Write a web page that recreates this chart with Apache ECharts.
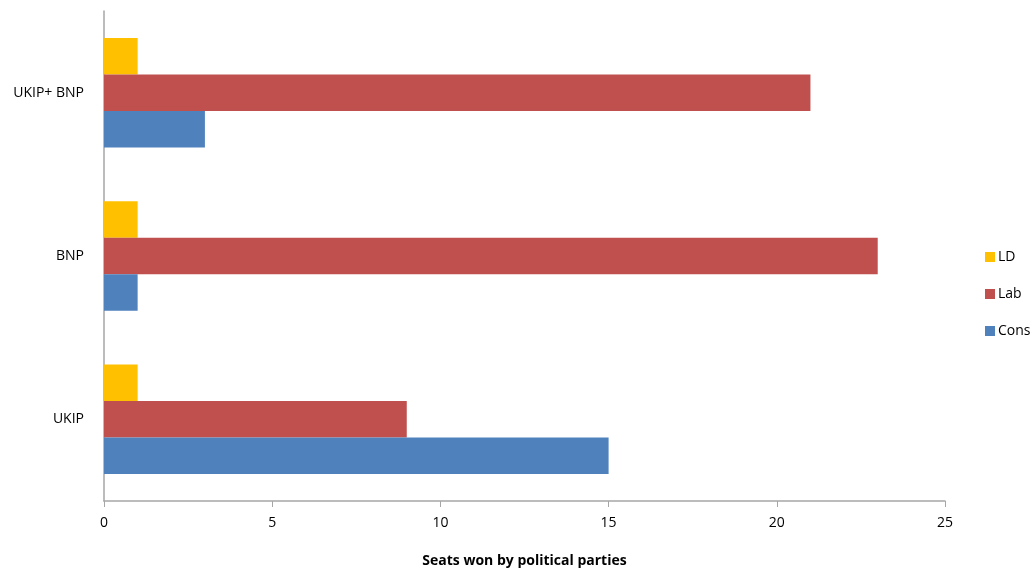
<!DOCTYPE html>
<html><head><meta charset="utf-8">
<script src="https://cdn.jsdelivr.net/npm/echarts@6/dist/echarts.min.js"></script>
<style>html,body{margin:0;padding:0;background:#fff}#c{width:1033px;height:573px}</style>
</head><body><div id="c"></div>
<script>
const categories = ['UKIP', 'BNP', 'UKIP+ BNP'];
const consValues = [15, 1, 3];
const labValues = [9, 23, 21];
const ldValues = [1, 1, 1];
const xTicks = { min: 0, max: 25, interval: 5 };
const axisName = 'Seats won by political parties';

const font = 'Open Sans, Liberation Sans, sans-serif';
const chart = echarts.init(document.getElementById('c'));
chart.setOption({
  animation: false,
  textStyle: { fontFamily: font },
  grid: { left: 104, right: 88, top: 11, bottom: 68, containLabel: false },
  legend: {
    orient: 'vertical', left: 980, top: 245,
    itemWidth: 10, itemHeight: 10, itemGap: 23,
    icon: 'rect',
    data: ['LD', 'Lab', 'Cons'],
    textStyle: { fontFamily: font, fontSize: 14, color: '#000', padding: [0, 0, 0, -2] }
  },
  xAxis: {
    type: 'value', min: xTicks.min, max: xTicks.max, interval: xTicks.interval,
    name: axisName, nameLocation: 'middle', nameGap: 53,
    nameTextStyle: { fontFamily: font, fontSize: 14, fontWeight: 'bold', color: '#000' },
    axisLine: { show: true, lineStyle: { color: '#a6a6a6', width: 1.5 } },
    axisTick: { show: true, length: 6, lineStyle: { color: '#a6a6a6' } },
    axisLabel: { fontFamily: font, fontSize: 14, color: '#000', margin: 15 },
    splitLine: { show: false }
  },
  yAxis: {
    type: 'category', data: categories,
    axisLine: { show: true, lineStyle: { color: '#a6a6a6', width: 1.5 } },
    axisTick: { show: false },
    axisLabel: { fontFamily: font, fontSize: 14, color: '#000', margin: 20 }
  },
  series: [
    { name: 'LD', type: 'bar', data: ldValues, itemStyle: { color: '#ffc000' }, barGap: '0%', barCategoryGap: '33%' },
    { name: 'Lab', type: 'bar', data: labValues, itemStyle: { color: '#c0504d' }, barGap: '0%', barCategoryGap: '33%' },
    { name: 'Cons', type: 'bar', data: consValues, itemStyle: { color: '#4f81bd' }, barGap: '0%', barCategoryGap: '33%' }
  ]
});
</script></body></html>
